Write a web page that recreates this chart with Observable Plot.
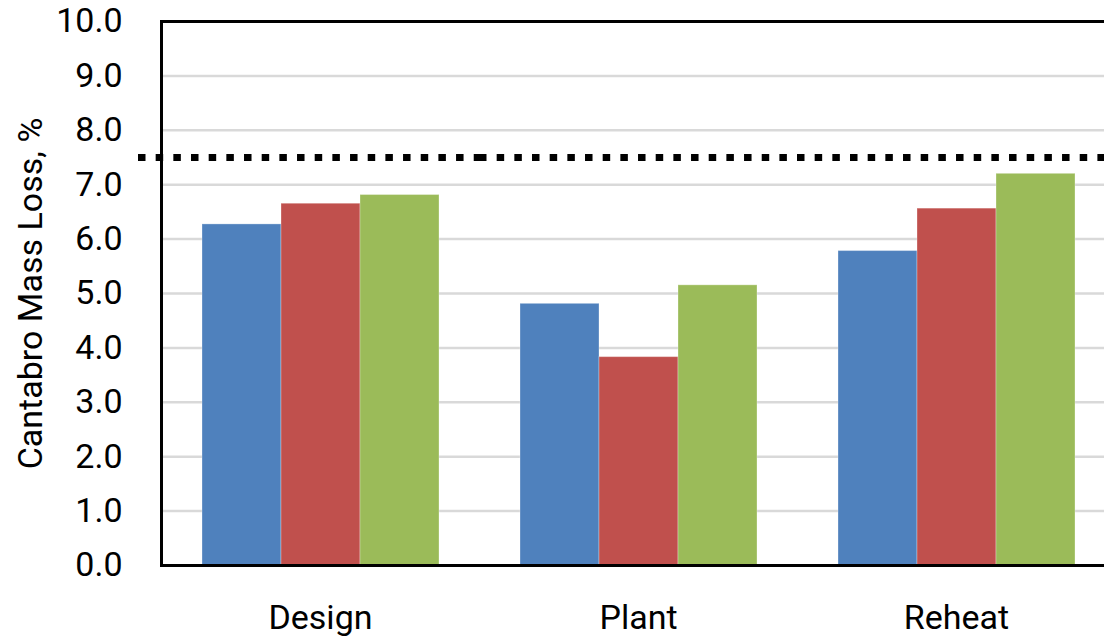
<!DOCTYPE html>
<html>
<head>
<meta charset="utf-8">
<script src="https://cdn.jsdelivr.net/npm/d3@7"></script>
<script src="https://cdn.jsdelivr.net/npm/@observablehq/plot@0.6"></script>
<style>
  html, body { margin: 0; padding: 0; background: #ffffff; }
  #chart svg { display: block; }
</style>
</head>
<body>
<div id="chart"></div>
<script>
// Mix groups along the category axis
const categories = ["Design", "Plant", "Reheat"];
// Three specimen series per group (blue, red, green)
const seriesKeys = ["s1", "s2", "s3"];
const seriesColors = ["#4F81BD", "#C0504D", "#9BBB59"];
const s1Values = [6.27, 4.81, 5.78];
const s2Values = [6.65, 3.83, 6.56];
const s3Values = [6.81, 5.15, 7.20];
// Maximum allowed mass loss (dotted limit line)
const limitValue = 7.5;
const yTicks = [0, 1, 2, 3, 4, 5, 6, 7, 8, 9, 10];
const yGrid = [1, 2, 3, 4, 5, 6, 7, 8, 9];

const valuesBySeries = [s1Values, s2Values, s3Values];
const rows = categories.flatMap((category, i) =>
  seriesKeys.map((key, j) => ({category, series: key, value: valuesBySeries[j][i]}))
);
// The limit line is drawn in every group panel; the first one overhangs the axis
const limitRows = categories.map((category) => ({category, value: limitValue}));

const font = "Roboto, 'Open Sans', sans-serif";
const dotted = {stroke: "#000", strokeWidth: 7, strokeDasharray: "7.5,10.17"};

const chart = Plot.plot({
  width: 1104,
  height: 637,
  marginLeft: 161,
  marginRight: -11,
  marginTop: 21,
  marginBottom: 72,
  style: {fontFamily: font, fontSize: "34px", color: "#000", background: "#fff"},
  fx: {domain: categories, padding: 0},
  x: {domain: seriesKeys, paddingInner: 0, paddingOuter: 0.5, axis: null},
  y: {domain: [0, 10], axis: null},
  color: {domain: seriesKeys, range: seriesColors},
  marks: [
    Plot.ruleY(yGrid, {stroke: "#D9D9D9", strokeWidth: 2.5}),
    Plot.barY(rows, {
      fx: "category", x: "series", y: "value", fill: "series",
      stroke: "#ffffff", strokeOpacity: 0.3, strokeWidth: 1
    }),
    Plot.ruleY(limitRows.slice(0, 1), {fx: "category", y: "value", insetLeft: -23, ...dotted}),
    Plot.ruleY(limitRows.slice(1), {fx: "category", y: "value", ...dotted}),
    Plot.frame({anchor: "top", facet: "super", stroke: "#000", strokeWidth: 3}),
    Plot.frame({anchor: "bottom", facet: "super", stroke: "#000", strokeWidth: 3}),
    Plot.frame({anchor: "left", facet: "super", stroke: "#000", strokeWidth: 3}),
    Plot.axisY({
      ticks: yTicks, tickSize: 0, tickPadding: 39, tickFormat: d3.format(".1f"),
      fontSize: 34, label: "Cantabro Mass Loss, %", labelAnchor: "center",
      labelOffset: 144, labelArrow: "none"
    }),
    Plot.axisFx({anchor: "bottom", tickSize: 0, tickPadding: 39, fontSize: 34, label: null})
  ]
});

document.getElementById("chart").appendChild(chart);
</script>
</body>
</html>
